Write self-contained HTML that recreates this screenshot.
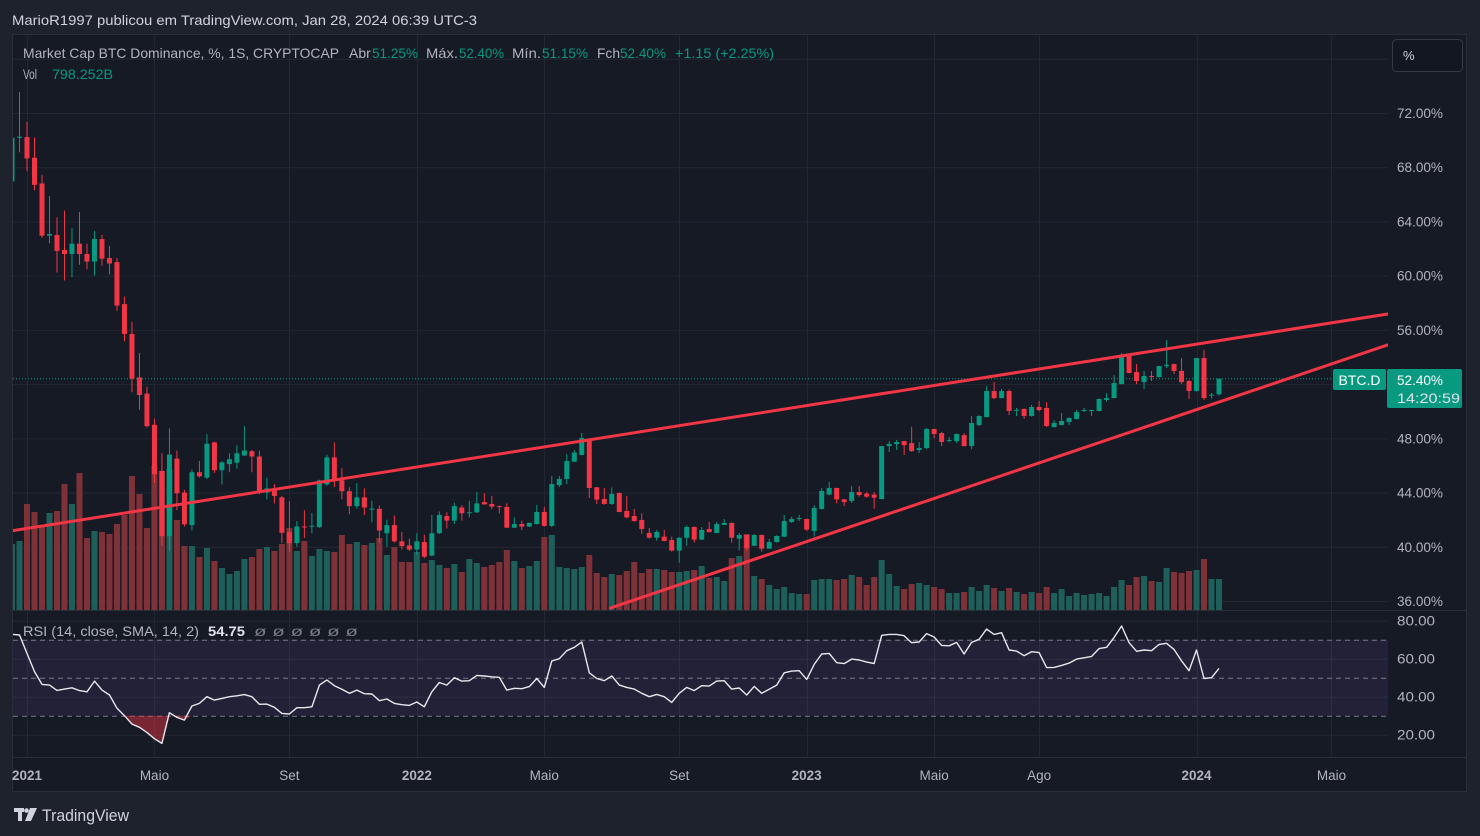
<!DOCTYPE html>
<html><head><meta charset="utf-8"><title>BTC Dominance</title>
<style>
html,body{margin:0;padding:0;background:#1e222d;}
body{width:1480px;height:836px;overflow:hidden;font-family:"Liberation Sans",sans-serif;}
svg{display:block}
</style></head>
<body>
<svg id="chart" width="1480" height="836" viewBox="0 0 1480 836" xmlns="http://www.w3.org/2000/svg">
  <rect x="0" y="0" width="1480" height="836" fill="#1e222d"/>
  <text x="12" y="25" font-size="14" fill="#d1d4dc" textLength="465" lengthAdjust="spacingAndGlyphs">MarioR1997 publicou em TradingView.com, Jan 28, 2024 06:39 UTC-3</text>
  <rect x="12.5" y="34.5" width="1454" height="757" fill="#161a25" stroke="#2a2e39"/>
  <g id="grid"></g>
  <g id="rsiBand"></g>
  <g id="volumes"></g>
  <g id="candles"></g>
  <g id="trend"></g>
  <g id="rsi"></g>
  <g id="axes"></g>
  <line x1="13" y1="610.5" x2="1466" y2="610.5" stroke="#2a2e39"/>
  <line x1="13" y1="757.5" x2="1466" y2="757.5" stroke="#2a2e39"/>

  <g font-size="14">
    <text x="23" y="58" fill="#b2b5be" textLength="316" lengthAdjust="spacingAndGlyphs">Market Cap BTC Dominance, %, 1S, CRYPTOCAP</text>
    <text x="349" y="58" fill="#b2b5be">Abr</text>
    <text x="372" y="58" fill="#089981" textLength="46" lengthAdjust="spacingAndGlyphs">51.25%</text>
    <text x="426" y="58" fill="#b2b5be" textLength="32" lengthAdjust="spacingAndGlyphs">Máx.</text>
    <text x="459" y="58" fill="#089981" textLength="45" lengthAdjust="spacingAndGlyphs">52.40%</text>
    <text x="512" y="58" fill="#b2b5be" textLength="29" lengthAdjust="spacingAndGlyphs">Mín.</text>
    <text x="542" y="58" fill="#089981" textLength="46" lengthAdjust="spacingAndGlyphs">51.15%</text>
    <text x="597" y="58" fill="#b2b5be" textLength="23" lengthAdjust="spacingAndGlyphs">Fch</text>
    <text x="620" y="58" fill="#089981" textLength="46" lengthAdjust="spacingAndGlyphs">52.40%</text>
    <text x="675" y="58" fill="#089981" textLength="99" lengthAdjust="spacingAndGlyphs">+1.15 (+2.25%)</text>
    <text x="23" y="79" fill="#b2b5be" textLength="14" lengthAdjust="spacingAndGlyphs">Vol</text>
    <text x="52" y="79" fill="#089981" textLength="61" lengthAdjust="spacingAndGlyphs">798.252B</text>
  </g>

  <g>
    <rect x="1392.5" y="39.5" width="70" height="32" rx="4" fill="#131722" stroke="#363a45"/>
    <text x="1403" y="60" font-size="13" fill="#d1d4dc">%</text>
  </g>

  <g font-size="14">
    <text x="23" y="636" fill="#b2b5be" textLength="176" lengthAdjust="spacingAndGlyphs">RSI (14, close, SMA, 14, 2)</text>
    <text x="208" y="636" fill="#e0e3eb" font-weight="bold" textLength="37" lengthAdjust="spacingAndGlyphs">54.75</text>
    <text x="254" y="636" fill="#787b86" textLength="104" lengthAdjust="spacingAndGlyphs">ø ø ø ø ø ø</text>
  </g>

  <g>
    <rect x="1333" y="369" width="53" height="21" rx="2" fill="#089981"/>
    <text x="1359.5" y="385" font-size="14" fill="#ffffff" text-anchor="middle">BTC.D</text>
    <rect x="1387" y="369" width="75" height="39" rx="2" fill="#089981"/>
    <text x="1397" y="385" font-size="13.5" fill="#ffffff" textLength="46" lengthAdjust="spacingAndGlyphs">52.40%</text>
    <text x="1397" y="403" font-size="13.5" fill="#e0e3eb" textLength="63" lengthAdjust="spacingAndGlyphs">14:20:59</text>
  </g>

  <g>
    <rect x="14" y="808" width="10" height="4" fill="#d1d4dc"/>
    <rect x="18" y="808" width="4" height="13" fill="#d1d4dc"/>
    <circle cx="26.5" cy="810.5" r="2.3" fill="#d1d4dc"/>
    <polygon points="30,808 37,808 31,821 25,821" fill="#d1d4dc"/>
    <text x="42" y="821" font-size="17" fill="#d1d4dc" textLength="87" lengthAdjust="spacingAndGlyphs">TradingView</text>
  </g>
</svg>

<script>
// ---- data (weekly candles, Dec 21 2020 .. Jan 22 2024) ----
const opens = [66.95,70.17,70.22,68.7,66.8,62.95,63.0,61.9,61.6,62.36,61.6,61.04,62.7,61.3,61.0,57.9,55.7,52.5,51.3,49.0,45.6,40.78,46.5,44.0,41.6,45.5,45.1,47.7,45.65,46.1,46.2,46.74,47.05,46.66,44.0,44.25,43.65,41.08,40.27,41.5,41.5,41.45,44.6,46.6,44.9,44.1,43.0,43.65,42.8,42.8,41.0,41.6,40.4,40.1,39.8,40.35,39.35,41.0,42.27,41.93,42.9,42.5,42.54,43.3,43.16,43.0,42.94,41.41,41.68,41.49,41.68,42.57,41.54,44.55,45.0,46.28,46.77,47.98,44.39,43.53,43.16,43.97,42.64,42.27,41.98,41.02,40.67,40.75,40.5,39.72,40.67,41.46,40.53,41.31,41.02,41.61,41.76,40.6,40.87,40.08,40.87,39.86,40.35,40.75,41.83,42.1,42.05,41.17,42.79,43.85,44.34,43.5,43.38,44.04,43.92,43.85,43.52,47.43,47.58,47.8,47.65,47.14,47.29,48.69,48.39,47.85,47.8,48.24,47.43,48.98,49.57,51.49,50.97,51.49,50.08,50.17,49.65,50.31,50.24,48.83,48.98,49.2,49.43,50.02,50.02,50.02,50.83,50.97,52.0,54.07,52.89,52.15,52.6,52.52,53.33,53.48,52.97,52.23,51.49,53.92,51.15,51.25];
const highs = [70.3,73.54,71.34,70.2,67.43,65.88,64.3,64.8,63.5,64.7,62.36,63.3,63.0,62.2,61.3,58.45,56.6,54.3,51.8,49.45,46.9,48.74,47.1,44.2,45.7,46.33,48.3,47.75,46.3,46.9,47.5,48.9,47.15,47.1,45.1,44.63,43.75,43.36,41.9,42.7,42.5,44.95,46.8,47.7,45.8,44.4,44.7,44.3,43.4,43.05,42.0,42.3,41.1,40.6,41.0,40.9,42.35,42.6,42.54,43.26,43.08,43.38,44.04,43.95,43.75,43.05,43.2,42.17,41.93,41.8,43.08,42.94,45.22,45.22,46.85,47.14,48.4,48.0,44.4,44.34,44.39,44.0,43.75,42.79,42.47,41.39,41.24,41.24,40.75,40.7,41.58,41.5,41.46,41.83,41.83,42.05,41.8,41.02,40.9,40.95,40.9,40.58,40.85,42.35,42.22,42.35,42.08,43.08,44.34,44.78,44.36,43.52,44.49,44.48,44.04,44.04,47.45,47.8,47.88,47.82,48.86,47.73,48.76,48.7,48.46,48.1,48.35,48.39,49.65,49.7,51.86,52.15,51.64,51.6,50.24,50.2,50.46,50.75,50.68,49.35,49.87,49.55,50.09,50.24,50.12,50.95,51.34,52.67,54.3,54.2,53.48,52.97,52.97,53.35,55.25,53.5,53.92,52.3,53.95,54.52,51.34,52.4];
const lows = [66.8,69.1,67.71,66.3,62.8,62.38,60.23,59.65,59.9,60.8,60.46,60.0,60.74,60.1,57.4,55.16,51.4,50.1,48.8,44.7,40.07,39.7,42.7,41.5,41.2,45.1,45.0,45.45,44.6,45.5,45.77,46.7,45.5,43.87,43.5,43.2,40.27,39.64,40.0,40.65,41.0,41.4,44.5,44.4,43.5,42.4,42.8,42.35,41.8,40.27,40.0,40.3,39.8,39.7,39.4,39.15,39.3,40.95,41.36,41.68,41.93,42.17,42.5,43.1,42.77,42.47,41.4,41.4,41.24,41.45,41.65,41.5,41.46,44.4,44.63,46.25,46.75,43.6,43.16,43.1,43.1,42.55,42.1,41.85,40.95,40.6,40.45,40.4,39.64,38.83,40.08,40.31,40.5,41.05,41.0,41.6,40.31,39.72,39.72,40.05,39.64,39.85,40.3,40.7,41.76,41.9,41.17,40.75,42.75,43.8,43.2,43.0,43.23,43.7,43.62,42.8,43.5,47.0,47.14,46.77,47.0,46.92,47.2,48.02,47.43,47.7,47.65,47.4,47.2,48.91,49.55,50.9,50.95,49.72,49.65,49.43,49.6,50.0,48.83,48.8,48.95,48.98,49.4,49.95,49.65,50.0,50.7,50.95,51.98,52.8,52.0,51.64,52.23,52.5,53.19,52.74,52.0,50.9,51.45,50.83,50.95,51.15];
const closes = [70.17,70.25,68.65,66.7,62.95,63.07,61.83,61.6,62.36,61.6,61.04,62.7,61.25,60.9,57.8,55.7,52.4,51.2,48.9,45.35,40.78,46.8,43.95,41.66,45.5,45.2,47.6,45.65,46.23,46.46,46.9,47.1,46.66,44.0,44.3,43.75,41.03,40.27,41.5,41.45,41.55,44.9,46.6,44.9,44.1,43.0,43.65,42.9,42.82,41.2,41.6,40.4,40.05,39.8,40.4,39.27,41.0,42.35,41.93,43.0,42.47,42.55,43.2,43.13,42.96,42.99,41.41,41.68,41.49,41.76,42.57,41.54,44.63,45.0,46.33,46.95,48.03,44.34,43.48,43.16,43.9,42.57,42.17,41.9,41.31,40.67,41.09,40.43,39.72,40.67,41.46,40.53,41.24,41.09,41.68,41.76,40.67,40.87,39.9,40.87,39.86,40.35,40.8,41.9,42.05,42.12,41.27,42.86,44.12,44.34,43.5,43.3,44.04,43.82,43.7,43.62,47.43,47.58,47.73,47.5,47.06,47.29,48.69,48.32,47.73,47.88,48.32,47.43,49.13,49.65,51.49,50.97,51.49,50.02,50.1,49.65,50.31,50.09,48.91,49.13,49.28,49.5,49.94,50.09,50.09,50.9,50.97,52.08,54.07,52.82,52.23,52.6,52.55,53.33,53.41,52.97,52.15,51.49,53.92,50.97,51.22,52.40];
// volume in units of ~25.75B
const volumes = [66,69,106,98,83,97,99,126,106,137,72,79,78,76,86,95,134,116,82,145,139,141,90,64,64,53,62,49,42,36,39,51,53,61,63,59,66,82,59,69,54,61,59,58,75,66,68,65,67,72,55,63,48,48,58,47,50,45,42,46,38,51,47,43,45,48,60,49,42,44,49,73,75,43,42,41,43,55,37,33,36,35,39,48,37,41,41,40,38,38,39,40,44,32,33,29,52,54,76,34,31,25,21,23,17,16,16,30,31,31,30,31,35,33,25,33,50,36,24,21,26,27,25,23,21,17,17,18,23,19,25,22,19,22,18,16,18,17,23,17,21,14,17,15,16,17,14,23,30,25,33,34,29,28,42,38,37,39,40,51,31,31];
const rsiValues = [72.8,72.5,62.8,53.2,46.5,46.1,43.3,44.0,44.7,43.2,42.6,48.2,43.5,40.9,33.9,30.0,25.6,23.9,21.1,17.9,15.4,31.6,29.1,27.7,35.1,36.5,40.0,38.2,39.1,40.0,40.5,41.1,40.0,36.0,36.1,34.4,31.2,30.9,34.2,34.2,34.7,46.1,48.8,45.8,43.9,41.8,43.5,41.6,41.4,37.9,38.8,36.5,35.8,35.4,37.2,34.7,42.6,47.5,46.1,50.0,48.2,48.4,51.2,50.9,50.5,50.2,43.5,44.4,44.2,45.3,49.6,44.9,58.8,60.0,64.2,66.0,68.8,52.6,49.6,48.4,50.9,46.1,44.9,44.0,41.8,40.0,41.2,40.0,37.0,41.8,44.9,43.2,45.8,45.6,48.2,48.4,44.0,44.6,40.9,45.4,41.8,43.9,46.1,52.6,53.5,53.7,49.1,57.0,62.5,62.8,57.9,57.4,59.8,59.3,58.2,57.5,72.3,72.8,72.8,72.1,68.4,68.8,73.2,71.4,67.0,66.8,68.6,62.5,68.6,70.2,75.6,72.8,73.7,64.6,64.0,61.6,63.7,63.2,55.3,55.4,56.5,57.7,59.8,60.5,61.2,65.3,66.0,71.2,77.2,68.4,63.9,64.6,64.2,67.5,68.1,64.9,58.9,53.7,64.6,49.6,50.0,54.9];
const priceTicks = [72,68,64,60,56,52,48,44,40,36];
const priceTickLabels = ["72.00%","68.00%","64.00%","60.00%","56.00%","52.00%","48.00%","44.00%","40.00%","36.00%"];
const rsiTicks = [80,60,40,20];
const rsiTickLabels = ["80.00","60.00","40.00","20.00"];
const rsiLevels = [70,50,30];
const timeTickIdx = [3,20,38,55,72,90,107,124,138,159,177];
const timeTickLabels = ["2021","Maio","Set","2022","Maio","Set","2023","Maio","Ago","2024","Maio"];
const timeTickBold = [1,0,0,1,0,0,1,0,0,1,0];
// trend lines: [barIndex, price] endpoints
const upperLine = [[0.87,41.17],[184.5,57.17]];
const lowerLine = [[80.8,35.48],[184.5,54.89]];
const lastPrice = 52.40;

// ---- scales ----
const NS = "http://www.w3.org/2000/svg";
const X0 = 13, X1 = 1388;
function xOf(i){ return 27 + (i - 3) * 7.497; }
function yP(p){ return 113 + (72 - p) * 13.556; }
function yV(v){ return 610 - v; }
function yR(r){ return 620.7 + (80 - r) * 1.9; }
function mk(tag, attrs, parent){
  const e = document.createElementNS(NS, tag);
  for (const k in attrs) e.setAttribute(k, attrs[k]);
  parent.appendChild(e);
  return e;
}
const GREEN = "#089981", RED = "#f23645";

// defs / clip
const svg = document.getElementById("chart");
const defs = mk("defs", {}, svg);
const cp = mk("clipPath", {id:"pricePane"}, defs);
mk("rect", {x:X0, y:35, width:X1-X0, height:575}, cp);
const cr = mk("clipPath", {id:"rsiPane"}, defs);
mk("rect", {x:X0, y:611, width:X1-X0, height:146}, cr);

// grid
const grid = document.getElementById("grid");
[76].concat(priceTicks).forEach(p => {
  const l = mk("line", {x1:X0, x2:X1, y1:yP(p)+0.5, y2:yP(p)+0.5, stroke:"#232733"}, grid);
  
  
});
rsiTicks.forEach(r => {
  const l = mk("line", {x1:X0, x2:X1, y1:yR(r)+0.5, y2:yR(r)+0.5, stroke:"#232733"}, grid);
  
  
});
timeTickIdx.forEach(i => {
  const x = Math.round(xOf(i)) + 0.5;
  const l = mk("line", {x1:x, x2:x, y1:35, y2:757, stroke:"#232733"}, grid);
  
  
});

// rsi band
const band = document.getElementById("rsiBand");
const bandRect = mk("rect", {x:X0, y:yR(rsiLevels[0]), width:X1-X0, height:yR(rsiLevels[2])-yR(rsiLevels[0]), fill:"rgba(126,87,194,0.12)"}, band);


rsiLevels.forEach(r => {
  const l = mk("line", {x1:X0, x2:X1, y1:yR(r)+0.5, y2:yR(r)+0.5, stroke:"#787b86", "stroke-dasharray":"5 4"}, band);
  
  
});

// volumes
const vg = document.getElementById("volumes");
vg.setAttribute("clip-path", "url(#pricePane)");
volumes.forEach((v, k) => {
  const i = k + 1, x = xOf(i);
  const up = closes[k] >= opens[k];
  const b = mk("rect", {x:x-3, y:yV(v), width:6, height:v, fill: up ? "#1f5f5a" : "#7e3238"}, vg);
  
  
});

// last price dotted line
const pl = mk("line", {x1:X0, x2:X1, y1:yP(lastPrice), y2:yP(lastPrice), stroke:GREEN, "stroke-dasharray":"1 2"}, vg);



// candles
const cg = document.getElementById("candles");
cg.setAttribute("clip-path", "url(#pricePane)");
closes.forEach((c, k) => {
  const i = k + 1, x = xOf(i), o = opens[k];
  const col = c >= o ? GREEN : RED;
  const w = mk("line", {x1:x, x2:x, y1:yP(highs[k]), y2:yP(lows[k]), stroke:col, "stroke-width":1}, cg);
  
  
  const top = yP(Math.max(o, c)), bot = yP(Math.min(o, c));
  const r = mk("rect", {x:x-2.5, y:top, width:5, height:Math.max(1, bot-top), fill:col}, cg);
  
  
});

// trend lines
const tg = document.getElementById("trend");
tg.setAttribute("clip-path", "url(#pricePane)");
[[upperLine,'upper-trend-line'],[lowerLine,'lower-trend-line']].forEach(([ln, nm]) => {
  const l = mk("line", {x1:xOf(ln[0][0]), y1:yP(ln[0][1]), x2:xOf(ln[1][0]), y2:yP(ln[1][1]), stroke:RED, "stroke-width":3, "stroke-linecap":"round"}, tg);
  
  
});

// rsi
const rg = document.getElementById("rsi");
rg.setAttribute("clip-path", "url(#rsiPane)");
// oversold fill
let os = [];
rsiValues.forEach((r, k) => { if (r < 30) os.push(k); });
if (os.length) {
  const s = os[0] - 1, e = os[os.length - 1] + 1;
  let pts = [];
  for (let k = s; k <= e; k++) pts.push(xOf(k+1) + "," + yR(Math.min(30, rsiValues[k])));
  const poly = mk("polygon", {points: pts.join(" "), fill:"rgba(242,54,69,0.45)"}, rg);
  
  
}
const rsiPts = rsiValues.map((r, k) => xOf(k+1).toFixed(1) + "," + yR(r).toFixed(1)).join(" ");
const rl = mk("polyline", {points: rsiPts, fill:"none", stroke:"#e8e8ec", "stroke-width":1.4, "stroke-linejoin":"round"}, rg);



// axes labels
const ag = document.getElementById("axes");
priceTicks.forEach((p, k) => {
  const t = mk("text", {x:1397, y:yP(p)+5, "font-size":13.5, fill:"#b2b5be", textLength:46, lengthAdjust:"spacingAndGlyphs"}, ag);
  t.textContent = priceTickLabels[k];
  
  
});
rsiTicks.forEach((r, k) => {
  const t = mk("text", {x:1397, y:yR(r)+5, "font-size":13.5, fill:"#b2b5be", textLength:38, lengthAdjust:"spacingAndGlyphs"}, ag);
  t.textContent = rsiTickLabels[k];
  
  
});
timeTickIdx.forEach((i, k) => {
  const t = mk("text", {x:xOf(i), y:780, "font-size":13.5, fill:"#b2b5be", "text-anchor":"middle", "font-weight": timeTickBold[k] ? "bold" : "normal"}, ag);
  t.textContent = timeTickLabels[k];
  
  
});
</script>
</body></html>
